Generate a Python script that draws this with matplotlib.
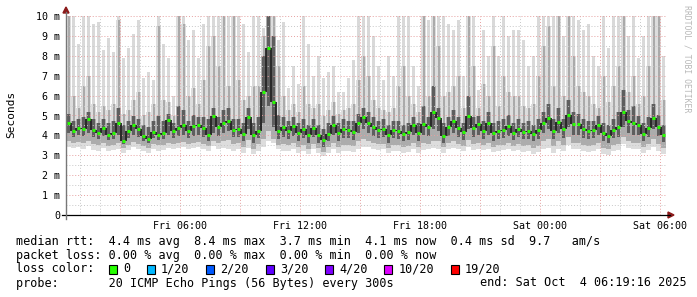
import numpy as np
import matplotlib
matplotlib.use("Agg")
import matplotlib.pyplot as plt
from matplotlib.patches import Polygon, Rectangle
from matplotlib.lines import Line2D

# smokeping style rtt chart, 15 minute columns, values in ms
step = 0.25  # hours per column

med = [4.6, 4.2, 4.35, 4.3, 4.8, 4.25, 4.1, 4.35, 4.0, 4.1, 4.6, 3.7, 4.2, 4.5, 4.3, 3.95, 3.8, 4.15, 4.0, 4.1, 4.75, 4.2, 4.35, 4.5, 4.2, 4.45, 4.5, 4.35, 4.0, 4.95,
       4.4, 4.6, 4.7, 4.25, 4.3, 4.05, 4.9, 4.0, 4.2, 6.2, 8.4, 5.7, 4.2, 4.4, 4.2, 4.45, 4.1, 4.3, 4.0, 4.35, 4.0, 3.75, 4.05, 4.5, 4.1, 4.3, 4.25, 4.15, 4.6, 4.9,
       4.6, 4.4, 4.25, 4.3, 4.0, 4.25, 4.2, 4.05, 4.15, 4.5, 4.1, 4.55, 4.4, 5.2, 4.85, 3.95, 4.4, 4.7, 4.35, 4.15, 4.95, 4.35, 4.55, 4.2, 4.6, 4.1, 4.2, 4.25, 4.45, 4.1,
       4.3, 4.15, 4.2, 4.05, 4.25, 4.6, 4.85, 4.2, 4.65, 4.3, 5.05, 4.55, 4.55, 4.3, 4.2, 4.25, 4.5, 4.1, 3.95, 4.25, 4.4, 5.2, 4.7, 4.6, 4.5, 4.05, 4.35, 4.85, 4.4, 4.0]

hi = [10.5, 10.5, 8.6, 10.5, 10.5, 9.6, 9.7, 8.3, 8.9, 8.2, 10.5, 7.9, 8.4, 9.1, 9.8, 6.9, 7.2, 6.8, 10.5, 8.6, 7.9, 6.0, 10.5, 10.5, 8.8, 9.3, 7.9, 9.6, 10.5, 10.5,
      10.5, 10.5, 10.5, 9.0, 10.5, 9.6, 8.2, 10.5, 10.5, 9.4, 10.5, 10.5, 8.8, 9.7, 6.4, 7.5, 6.6, 10.5, 8.6, 7.0, 8.0, 6.9, 7.2, 7.5, 6.2, 6.2, 6.9, 7.8, 10.5, 10.5,
      10.5, 9.0, 7.5, 6.8, 8.0, 7.0, 10.5, 10.5, 10.5, 7.5, 6.5, 10.5, 9.8, 10.5, 10.5, 10.5, 9.6, 9.3, 9.8, 7.0, 10.5, 10.5, 6.3, 9.3, 8.0, 10.5, 8.0, 10.5, 9.0, 9.3,
      9.3, 8.8, 7.5, 8.0, 10.5, 10.5, 10.5, 10.5, 10.5, 9.0, 10.5, 10.5, 9.8, 9.3, 9.6, 8.0, 7.5, 10.5, 8.4, 10.5, 10.5, 10.5, 9.0, 10.5, 7.9, 9.0, 10.5, 10.5, 10.5, 8.0]

p90 = [10.5, 6.0, 5.4, 6.5, 7.0, 5.6, 5.2, 5.5, 5.3, 5.6, 9.8, 5.1, 5.3, 5.8, 6.2, 5.0, 5.2, 5.6, 9.5, 5.8, 5.7, 5.0, 10.2, 9.6, 6.0, 6.4, 5.6, 6.8, 8.5, 9.0,
       7.5, 10.5, 6.5, 10.5, 6.8, 5.8, 6.0, 6.5, 6.5, 9.0, 10.5, 10.5, 7.5, 6.0, 5.3, 5.6, 5.2, 6.5, 5.6, 5.4, 5.6, 5.0, 5.3, 5.7, 5.1, 5.3, 5.4, 5.6, 6.8, 8.0,
       7.0, 5.8, 5.4, 5.3, 5.2, 5.4, 6.5, 7.5, 6.0, 5.6, 5.2, 10.5, 6.0, 10.5, 8.5, 6.0, 6.2, 6.5, 7.0, 5.4, 10.5, 7.5, 5.4, 6.6, 6.0, 8.5, 5.5, 7.0, 6.2, 6.0,
       6.0, 5.5, 5.4, 5.6, 7.0, 8.5, 9.5, 6.5, 10.5, 6.0, 10.5, 8.0, 6.5, 6.2, 6.0, 5.6, 5.4, 7.0, 5.7, 6.5, 7.5, 10.5, 6.2, 7.0, 5.6, 6.0, 7.5, 10.5, 10.5, 5.8]

q3 = [5.1, 4.7, 4.8, 4.9, 5.2, 4.8, 4.6, 4.8, 4.6, 4.7, 5.4, 4.5, 4.7, 5.0, 4.8, 4.5, 4.4, 4.7, 5.0, 4.7, 5.1, 4.6, 5.5, 5.3, 4.7, 5.0, 4.9, 4.9, 4.8, 5.4,
      4.9, 5.3, 5.4, 4.8, 4.8, 4.6, 5.4, 4.6, 4.9, 8.0, 10.5, 9.0, 5.0, 4.9, 4.7, 4.9, 4.6, 4.8, 4.5, 4.8, 4.5, 4.3, 4.6, 5.0, 4.6, 4.8, 4.7, 4.7, 5.1, 5.4,
      5.2, 4.9, 4.7, 4.8, 4.5, 4.7, 4.7, 4.5, 4.6, 4.9, 4.6, 5.5, 4.9, 6.5, 5.4, 4.6, 4.9, 5.3, 4.9, 4.6, 6.0, 4.9, 5.0, 4.7, 5.2, 4.6, 4.7, 4.8, 5.0, 4.6,
      4.8, 4.6, 4.7, 4.5, 4.8, 5.2, 5.6, 4.8, 5.4, 4.8, 5.8, 5.2, 5.1, 4.8, 4.7, 4.7, 5.0, 4.6, 4.5, 4.8, 5.2, 6.3, 5.3, 5.5, 5.0, 4.6, 4.9, 5.6, 5.0, 4.5]

q1 = [4.1, 3.9, 4.0, 3.95, 4.1, 3.9, 3.8, 3.95, 3.75, 3.8, 4.0, 3.55, 3.85, 4.0, 3.9, 3.7, 3.6, 3.85, 3.75, 3.8, 4.0, 3.85, 3.95, 4.0, 3.85, 3.95, 4.0, 3.9, 3.7, 4.1,
      3.95, 4.1, 4.2, 3.9, 3.9, 3.7, 4.3, 3.6, 3.85, 4.6, 5.5, 4.4, 3.8, 3.9, 3.8, 3.95, 3.7, 3.85, 3.6, 3.9, 3.6, 3.4, 3.7, 4.0, 3.7, 3.85, 3.85, 3.75, 4.1, 4.3,
      4.1, 3.95, 3.85, 3.9, 3.6, 3.85, 3.8, 3.7, 3.75, 4.0, 3.7, 4.0, 3.95, 4.3, 4.2, 3.6, 3.95, 4.1, 3.9, 3.75, 4.3, 3.9, 4.0, 3.8, 4.0, 3.7, 3.8, 3.85, 3.95, 3.75,
      3.9, 3.8, 3.8, 3.7, 3.8, 4.1, 4.3, 3.8, 4.1, 3.85, 4.4, 4.0, 4.0, 3.85, 3.8, 3.85, 4.0, 3.7, 3.6, 3.85, 3.9, 4.4, 4.1, 4.0, 4.0, 3.7, 3.9, 4.3, 3.95, 3.65]

p10 = [3.7, 3.6, 3.65, 3.6, 3.7, 3.55, 3.5, 3.6, 3.45, 3.5, 3.6, 3.35, 3.5, 3.65, 3.55, 3.45, 3.35, 3.55, 3.5, 3.5, 3.6, 3.55, 3.6, 3.65, 3.55, 3.6, 3.65, 3.55, 3.45, 3.7,
       3.6, 3.7, 3.75, 3.55, 3.6, 3.4, 3.75, 3.3, 3.55, 3.8, 4.2, 3.8, 3.5, 3.55, 3.5, 3.6, 3.4, 3.5, 3.3, 3.55, 3.35, 3.15, 3.4, 3.6, 3.4, 3.5, 3.5, 3.45, 3.7, 3.8,
       3.7, 3.6, 3.55, 3.55, 3.35, 3.5, 3.5, 3.4, 3.45, 3.6, 3.4, 3.6, 3.55, 3.7, 3.7, 3.4, 3.6, 3.7, 3.55, 3.45, 3.75, 3.55, 3.6, 3.5, 3.6, 3.4, 3.5, 3.5, 3.6, 3.45,
       3.55, 3.45, 3.5, 3.35, 3.45, 3.7, 3.8, 3.45, 3.7, 3.5, 3.9, 3.6, 3.6, 3.5, 3.45, 3.5, 3.6, 3.35, 3.3, 3.5, 3.55, 3.9, 3.7, 3.6, 3.6, 3.4, 3.55, 3.8, 3.55, 3.35]

lo = [3.4, 3.35, 3.4, 3.3, 3.45, 3.25, 3.2, 3.35, 3.2, 3.25, 3.3, 3.1, 3.25, 3.4, 3.3, 3.2, 3.1, 3.3, 3.2, 3.25, 3.35, 3.3, 3.35, 3.4, 3.3, 3.35, 3.4, 3.3, 3.2, 3.45,
      3.3, 3.35, 3.3, 3.2, 3.3, 3.1, 3.35, 3.05, 3.2, 3.4, 3.7, 3.6, 3.3, 3.2, 3.2, 3.3, 3.1, 3.2, 3.05, 3.3, 3.1, 2.95, 3.1, 3.3, 3.1, 3.2, 3.2, 3.15, 3.3, 3.4,
      3.4, 3.3, 3.25, 3.3, 3.1, 3.2, 3.2, 3.1, 3.15, 3.3, 3.1, 3.25, 3.3, 3.35, 3.3, 3.1, 3.3, 3.35, 3.3, 3.2, 3.4, 3.25, 3.3, 3.25, 3.3, 3.15, 3.2, 3.25, 3.3, 3.2,
      3.25, 3.15, 3.2, 3.05, 3.15, 3.3, 3.35, 3.1, 3.3, 3.2, 3.5, 3.3, 3.3, 3.2, 3.15, 3.2, 3.3, 3.05, 3.0, 3.2, 3.25, 3.55, 3.35, 3.3, 3.3, 3.1, 3.25, 3.4, 3.2, 3.05]

# grid positions in hours after the start (Fri 00:19:16)
major_x = [2.679, 5.679, 8.679, 11.679, 14.679, 17.679, 20.679, 23.679, 26.679, 29.679]
major_lbl = ["", "Fri 06:00", "", "Fri 12:00", "", "Fri 18:00", "", "Sat 00:00", "", "Sat 06:00"]
minor_x = [0.679 + h for h in range(30)]
yticks = [0, 1, 2, 3, 4, 5, 6, 7, 8, 9, 10]
ylbls = ["0"] + [f"{v} m" for v in yticks[1:]]

loss_lbl = ["0", "1/20", "2/20", "3/20", "4/20", "10/20", "19/20"]
loss_col = ["#26ff00", "#00b8ff", "#0059ff", "#5e00ff", "#7e00ff", "#dd00ff", "#ff0000"]

W, H = 697, 297
def fx(px):
    return px / W
def fy(py):
    return 1 - py / H

mono = "DejaVu Sans Mono"
fig = plt.figure(figsize=(W / 100, H / 100), dpi=100)
fig.patch.set_facecolor("white")
ax = fig.add_axes([fx(66), fy(215), 600 / W, 199 / H])

t = np.arange(len(med)) * step + step / 2
med_a = np.array(med)
lo_a, p10_a, q1_a = np.array(lo), np.array(p10), np.array(q1)
p90_a, q3_a = np.array(p90), np.array(q3)
bar = dict(lw=0, antialiased=False)
# smoke layers, lightest outside
ax.bar(t, p90_a - lo_a, bottom=lo_a, width=step, color="#dddddd", zorder=1, **bar)
ax.bar(t, np.array(hi) - p90_a, bottom=p90_a, width=step * 0.5, color="#d9d9d9", zorder=1, **bar)
ax.bar(t, q3_a - p10_a, bottom=p10_a, width=step, color="#acacac", zorder=1.1, **bar)
ax.bar(t, p90_a - q3_a, bottom=q3_a, width=step * 0.4, color="#aaaaaa", zorder=1.1, **bar)
ax.bar(t, q3_a - q1_a, bottom=q1_a, width=step * 0.6, color="#5e5e5e", zorder=1.2, **bar)
ax.vlines(t[1:] - step / 2, np.minimum(med_a[:-1], med_a[1:]), np.maximum(med_a[:-1], med_a[1:]),
          color="#111111", lw=1.2, zorder=3)
ax.hlines(med, t - 0.075, t + 0.075, color=loss_col[0], lw=2.2, zorder=4)

ax.set_xlim(0, 30)
ax.set_ylim(0, 10)
ax.set_xticks(major_x)
ax.set_xticklabels(major_lbl, family=mono, fontsize=7.2)
ax.set_xticks(minor_x, minor=True)
ax.set_yticks(yticks)
ax.set_yticklabels(ylbls, family=mono, fontsize=7.2)
ax.set_yticks(np.arange(0.5, 10, 1), minor=True)
ax.tick_params(axis="both", which="both", length=0)
ax.tick_params(axis="x", pad=4)
ax.tick_params(axis="y", pad=4.3)

ax.set_axisbelow(False)
ax.grid(which="major", color="#e6a0a0", linestyle=(0, (1, 2)), lw=0.7, zorder=2)
ax.grid(which="minor", color="#c8c8c8", linestyle=(0, (1, 2)), lw=0.7, zorder=2)
for s in ax.spines.values():
    s.set_visible(False)

# axis lines and arrows
fig.add_artist(Line2D([fx(62), fx(670)], [fy(215), fy(215)], color="black", lw=0.9, transform=fig.transFigure))
fig.add_artist(Line2D([fx(66), fx(66)], [fy(219), fy(12)], color="#777777", lw=1.0, transform=fig.transFigure))
fig.add_artist(Polygon([[fx(63), fy(13)], [fx(69), fy(13)], [fx(66), fy(7)]], closed=True,
                       color="#8b1a1a", transform=fig.transFigure))
fig.add_artist(Polygon([[fx(668), fy(212)], [fx(668), fy(218)], [fx(674), fy(215)]], closed=True,
                       color="#8b1a1a", transform=fig.transFigure))

fig.text(fx(11), fy(114), "Seconds", rotation=90, ha="center", va="center", family=mono, fontsize=8)
fig.text(fx(687), fy(5), "RRDTOOL / TOBI OETIKER", rotation=270, ha="center", va="top",
         family=mono, fontsize=5.9, color="#b8b8b8")

# legend block
fs = 8.5
cw = 7.08
fig.text(fx(16), fy(241), "median rtt:  4.4 ms avg  8.4 ms max  3.7 ms min  4.1 ms now  0.4 ms sd  9.7   am/s",
         family=mono, fontsize=fs, va="center")
fig.text(fx(16), fy(255), "packet loss: 0.00 % avg  0.00 % max  0.00 % min  0.00 % now",
         family=mono, fontsize=fs, va="center")
fig.text(fx(16), fy(269), "loss color:", family=mono, fontsize=fs, va="center")
bx = 109
for lbl, col in zip(loss_lbl, loss_col):
    fig.add_artist(Rectangle((fx(bx), fy(274)), 8 / W, 9 / H, facecolor=col, edgecolor="black",
                             lw=0.8, transform=fig.transFigure))
    fig.text(fx(bx + 14), fy(269), lbl, family=mono, fontsize=fs, va="center")
    bx = bx + 14 + len(lbl) * cw + 17
fig.text(fx(16), fy(283), "probe:       20 ICMP Echo Pings (56 Bytes) every 300s",
         family=mono, fontsize=fs, va="center")
fig.text(fx(687), fy(283), "end: Sat Oct  4 06:19:16 2025", family=mono, fontsize=fs, va="center", ha="right")

fig.savefig("out.png", dpi=100)
